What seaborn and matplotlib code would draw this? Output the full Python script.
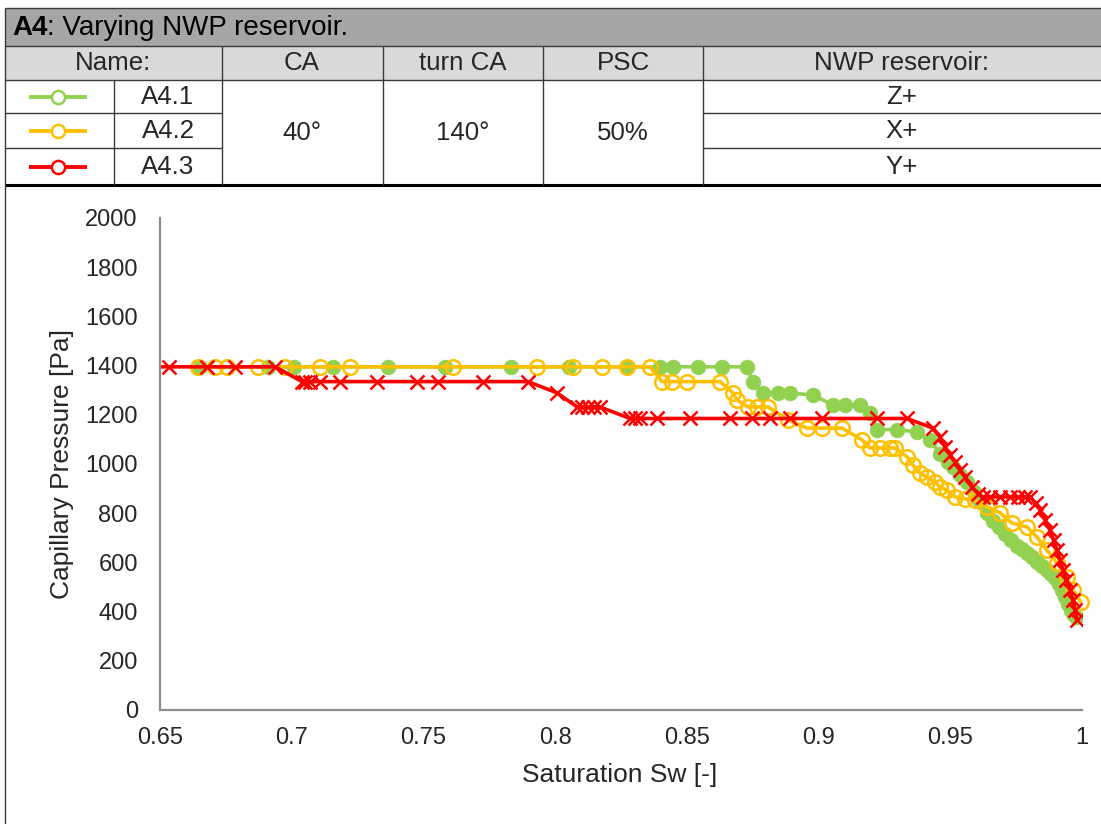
import matplotlib
matplotlib.use("Agg")
import matplotlib.pyplot as plt
import seaborn as sns
import numpy as np
import pandas as pd

# ---------------- data ----------------
series_names = ["A4.1", "A4.2", "A4.3"]
nwp_reservoir = ["Z+", "X+", "Y+"]
table_header = ["Name:", "CA", "turn CA", "PSC", "NWP reservoir:"]
ca_value, turn_ca_value, psc_value = "40°", "140°", "50%"

x_ticks = [0.65, 0.7, 0.75, 0.8, 0.85, 0.9, 0.95, 1.0]
x_tick_labels = ["0.65", "0.7", "0.75", "0.8", "0.85", "0.9", "0.95", "1"]
y_ticks = [0, 200, 400, 600, 800, 1000, 1200, 1400, 1600, 1800, 2000]

# A4.1 (Z+)
a41_sw = [0.6652, 0.6910, 0.7009, 0.7157, 0.7365, 0.7582, 0.7832, 0.8052, 0.8272, 0.8398,
          0.8447, 0.8542, 0.8632, 0.8727, 0.8750, 0.8789, 0.8845, 0.8891, 0.8979, 0.9055,
          0.9100, 0.9157, 0.9195, 0.9222, 0.9298, 0.9374, 0.9423, 0.9461, 0.9490, 0.9510,
          0.9535, 0.9563, 0.9590, 0.9613, 0.9640, 0.9662, 0.9685, 0.9708, 0.9730, 0.9753,
          0.9772, 0.9791, 0.9810, 0.9829, 0.9848, 0.9867, 0.9883, 0.9898, 0.9912, 0.9924,
          0.9936, 0.9947, 0.9958, 0.9966, 0.9977]
a41_pc = [1395, 1395, 1395, 1395, 1395, 1395, 1395, 1395, 1395, 1395,
          1395, 1395, 1395, 1395, 1335, 1289, 1289, 1289, 1280, 1240,
          1240, 1240, 1207, 1140, 1140, 1130, 1098, 1040, 1010, 988,
          955, 925, 885, 845, 800, 770, 742, 715, 690, 668,
          655, 640, 620, 602, 585, 569, 552, 537, 512, 488,
          460, 430, 407, 390, 378]

# A4.2 (X+)
a42_sw = [0.6644, 0.6709, 0.6754, 0.6872, 0.6974, 0.7107, 0.7221, 0.7612, 0.7931, 0.8068,
          0.8178, 0.8273, 0.8360, 0.8406, 0.8444, 0.8500, 0.8626, 0.8675, 0.8690, 0.8732,
          0.8766, 0.8808, 0.8884, 0.8956, 0.9013, 0.9089, 0.9165, 0.9195, 0.9233, 0.9271,
          0.9290, 0.9336, 0.9358, 0.9385, 0.9412, 0.9442, 0.9461, 0.9487, 0.9518, 0.9556,
          0.9594, 0.9639, 0.9689, 0.9734, 0.9791, 0.9829, 0.9867, 0.9905, 0.9943, 0.9966,
          0.9995]
a42_pc = [1395, 1395, 1395, 1395, 1395, 1395, 1395, 1395, 1395, 1395,
          1395, 1395, 1395, 1335, 1335, 1335, 1335, 1289, 1260, 1232,
          1232, 1232, 1179, 1146, 1146, 1146, 1098, 1065, 1065, 1065,
          1065, 1029, 996, 963, 947, 927, 906, 894, 866, 858,
          854, 825, 801, 760, 744, 703, 650, 598, 541, 488,
          440]

# A4.3 (Y+)
a43_sw = [0.6450, 0.6534, 0.6678, 0.6785, 0.6937, 0.7039, 0.7050, 0.7069, 0.7107, 0.7183,
          0.7324, 0.7476, 0.7555, 0.7726, 0.7897, 0.8007, 0.8083, 0.8102, 0.8125, 0.8147,
          0.8170, 0.8284, 0.8303, 0.8322, 0.8387, 0.8512, 0.8664, 0.8747, 0.8816, 0.8892,
          0.9013, 0.9222, 0.9336, 0.9434, 0.9461, 0.9480, 0.9499, 0.9518, 0.9537, 0.9556,
          0.9582, 0.9605, 0.9624, 0.9651, 0.9689, 0.9727, 0.9757, 0.9784, 0.9803, 0.9825,
          0.9841, 0.9860, 0.9879, 0.9892, 0.9905, 0.9916, 0.9928, 0.9941, 0.9955, 0.9965,
          0.9974, 0.9981]
a43_pc = [1395, 1395, 1395, 1395, 1395, 1335, 1335, 1335, 1335, 1335,
          1335, 1335, 1335, 1335, 1335, 1289, 1232, 1232, 1232, 1232,
          1232, 1185, 1185, 1185, 1185, 1185, 1185, 1185, 1185, 1185,
          1185, 1185, 1185, 1146, 1110, 1069, 1037, 1008, 975, 947,
          906, 880, 866, 866, 866, 866, 866, 866, 866, 840,
          813, 772, 732, 691, 650, 610, 569, 528, 488, 447,
          407, 366]

colors = {"A4.1": "#92d050", "A4.2": "#ffc000", "A4.3": "#ff0000"}

# ---------------- figure ----------------
sns.set_style("white")
plt.rcParams["font.family"] = ["Liberation Sans", "DejaVu Sans"]

W, H = 1101, 824
fig = plt.figure(figsize=(W / 100, H / 100), dpi=100)
fig.patch.set_facecolor("white")

# overlay for the header table (pixel coordinates)
ov = fig.add_axes([0, 0, 1, 1], zorder=0)
ov.set_xlim(0, W)
ov.set_ylim(H, 0)
ov.axis("off")

# header backgrounds
ov.add_patch(plt.Rectangle((5, 8), W - 5, 38, facecolor="#a6a6a6", edgecolor="none"))
ov.add_patch(plt.Rectangle((5, 46), W - 5, 34, facecolor="#d9d9d9", edgecolor="none"))

line_kw = dict(color="#3a3a3a", lw=1.0, solid_capstyle="butt")
for yy in (8, 46, 80):
    ov.plot([5, W], [yy, yy], **line_kw)
for yy in (113, 148):
    ov.plot([5, 222], [yy, yy], **line_kw)
    ov.plot([703, W], [yy, yy], **line_kw)
ov.plot([5, W], [185, 185], color="black", lw=2.2, solid_capstyle="butt")
ov.plot([5, 5], [8, H], **line_kw)
ov.plot([114, 114], [80, 185], **line_kw)
for xx in (222, 383, 543, 703):
    ov.plot([xx, xx], [46, 185], **line_kw)

tfs = 18.6
t1 = ov.text(12, 28, "A4", fontsize=20, fontweight="bold", va="center", ha="left", color="black")
ov.annotate(": Varying NWP reservoir.", xy=(1, 0), xycoords=t1, va="bottom", ha="left",
            fontsize=20, color="black")

hdr_x = [113, 302, 463, 623, 902]
for hx, txt in zip(hdr_x, table_header):
    ov.text(hx, 63, txt, fontsize=tfs, ha="center", va="center")

row_y = [97, 131, 167]
for ry, name, nwp in zip(row_y, series_names, nwp_reservoir):
    ov.text(168, ry, name, fontsize=tfs, ha="center", va="center")
    ov.text(902, ry, nwp, fontsize=tfs, ha="center", va="center")
    c = colors[name]
    ov.plot([29, 87], [ry, ry], color=c, lw=2.8, solid_capstyle="butt")
    ov.plot([58], [ry], marker="o", markersize=9.5, markerfacecolor="white",
            markeredgecolor=c, markeredgewidth=1.8)
ov.text(302, 133, ca_value, fontsize=tfs, ha="center", va="center")
ov.text(463, 133, turn_ca_value, fontsize=tfs, ha="center", va="center")
ov.text(623, 133, psc_value, fontsize=tfs, ha="center", va="center")

# ---------------- main chart ----------------
ax = fig.add_axes([160 / W, (H - 710) / H, 922 / W, 492 / H], zorder=1)
ax.set_facecolor("none")

sns.lineplot(x=a41_sw, y=a41_pc, ax=ax, sort=False, estimator=None, legend=False,
             color=colors["A4.1"], linewidth=2.6, marker="o", markersize=10.5,
             markerfacecolor=colors["A4.1"], markeredgecolor=colors["A4.1"],
             markeredgewidth=0.6)
sns.lineplot(x=a42_sw, y=a42_pc, ax=ax, sort=False, estimator=None, legend=False,
             color=colors["A4.2"], linewidth=2.6, marker="o", markersize=10.5,
             markerfacecolor="none", markeredgecolor=colors["A4.2"],
             markeredgewidth=1.8, clip_on=False)
sns.lineplot(x=a43_sw, y=a43_pc, ax=ax, sort=False, estimator=None, legend=False,
             color=colors["A4.3"], linewidth=2.6, marker="x", markersize=10,
             markeredgecolor=colors["A4.3"], markeredgewidth=1.8)

ax.set_xlim(0.65, 1.0)
ax.set_ylim(0, 2000)
ax.set_xticks(x_ticks)
ax.set_xticklabels(x_tick_labels)
ax.set_yticks(y_ticks)
ax.tick_params(axis="both", length=0, labelsize=17, labelcolor="#262626")
ax.tick_params(axis="x", pad=12)
ax.tick_params(axis="y", pad=16)
for s in ("top", "right"):
    ax.spines[s].set_visible(False)
for s in ("left", "bottom"):
    ax.spines[s].set_color("#8c8c8c")
    ax.spines[s].set_linewidth(1.6)
ax.grid(False)

ax.set_xlabel("Saturation Sw [-]", fontsize=19, color="#262626")
ax.set_ylabel("Capillary Pressure [Pa]", fontsize=19, color="#262626")
ax.xaxis.set_label_coords((620 - 160) / 922, (710 - 775) / 492)
ax.xaxis.label.set_va("center")
ax.yaxis.set_label_coords((62 - 160) / 922, (710 - 464) / 492)
ax.yaxis.label.set_va("center")

fig.savefig("out.png", dpi=100)
